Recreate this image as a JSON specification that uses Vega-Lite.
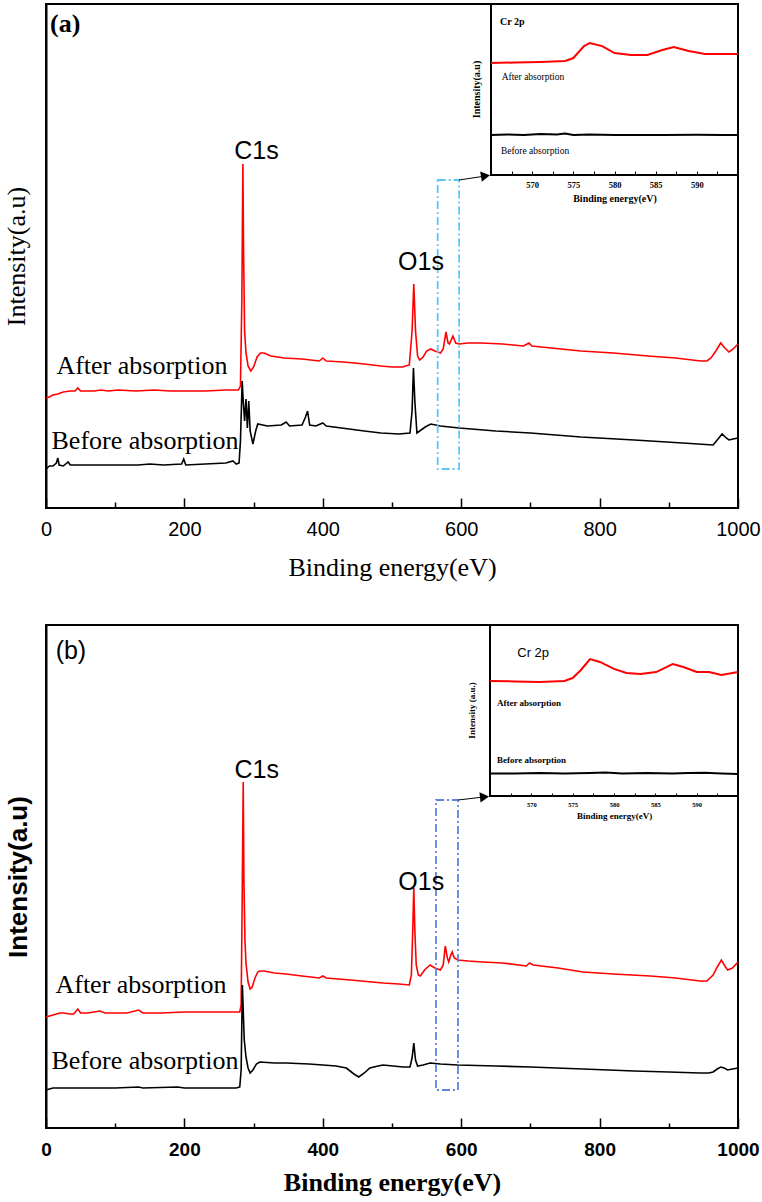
{
  "$schema": "https://vega.github.io/schema/vega-lite/v6.json",
  "background": "white",
  "padding": {"left": 2, "top": 2, "right": 5, "bottom": 0},
  "spacing": 42,
  "config": {
    "view": {"stroke": "#000000", "strokeWidth": 2},
    "axis": {"grid": false, "domain": false, "labelColor": "#000000", "titleColor": "#000000", "tickColor": "#000000", "domainColor": "#000000"}
  },
  "datasets": {
    "one": [{}],
    "aMain": [
      {"e":0,"v":110,"s":"After"},{"e":5,"v":111,"s":"After"},{"e":10,"v":113,"s":"After"},{"e":17,"v":114,"s":"After"},{"e":25,"v":116,"s":"After"},{"e":35,"v":117,"s":"After"},{"e":42,"v":117,"s":"After"},{"e":46,"v":120,"s":"After"},{"e":50,"v":117,"s":"After"},{"e":70,"v":117,"s":"After"},{"e":79,"v":118,"s":"After"},{"e":90,"v":117,"s":"After"},{"e":104,"v":118,"s":"After"},{"e":130,"v":117,"s":"After"},{"e":156,"v":118,"s":"After"},{"e":180,"v":117,"s":"After"},{"e":200,"v":117,"s":"After"},{"e":230,"v":117,"s":"After"},{"e":260,"v":118,"s":"After"},{"e":278,"v":118,"s":"After"},{"e":281,"v":122,"s":"After"},{"e":283,"v":207,"s":"After"},{"e":284.5,"v":344,"s":"After"},{"e":285.5,"v":257,"s":"After"},{"e":287,"v":177,"s":"After"},{"e":289,"v":155,"s":"After"},{"e":292,"v":142,"s":"After"},{"e":296,"v":137,"s":"After"},{"e":300,"v":141,"s":"After"},{"e":305,"v":151,"s":"After"},{"e":310,"v":155,"s":"After"},{"e":315,"v":155,"s":"After"},{"e":325,"v":152,"s":"After"},{"e":344,"v":150,"s":"After"},{"e":370,"v":149,"s":"After"},{"e":395,"v":147,"s":"After"},{"e":400,"v":150,"s":"After"},{"e":405,"v":147,"s":"After"},{"e":430,"v":146,"s":"After"},{"e":460,"v":144,"s":"After"},{"e":484,"v":142,"s":"After"},{"e":500,"v":141,"s":"After"},{"e":515,"v":141,"s":"After"},{"e":525,"v":143,"s":"After"},{"e":529,"v":177,"s":"After"},{"e":531.5,"v":224,"s":"After"},{"e":534,"v":177,"s":"After"},{"e":537,"v":152,"s":"After"},{"e":540,"v":148,"s":"After"},{"e":545,"v":151,"s":"After"},{"e":550,"v":157,"s":"After"},{"e":556,"v":159,"s":"After"},{"e":562,"v":157,"s":"After"},{"e":570,"v":155,"s":"After"},{"e":574,"v":159,"s":"After"},{"e":578,"v":176,"s":"After"},{"e":581,"v":165,"s":"After"},{"e":583,"v":164,"s":"After"},{"e":588,"v":172,"s":"After"},{"e":592,"v":165,"s":"After"},{"e":597,"v":164,"s":"After"},{"e":610,"v":165,"s":"After"},{"e":629,"v":165,"s":"After"},{"e":660,"v":164,"s":"After"},{"e":690,"v":162,"s":"After"},{"e":698,"v":165,"s":"After"},{"e":702,"v":162,"s":"After"},{"e":730,"v":160,"s":"After"},{"e":773,"v":157,"s":"After"},{"e":820,"v":155,"s":"After"},{"e":870,"v":152,"s":"After"},{"e":910,"v":150,"s":"After"},{"e":946,"v":147,"s":"After"},{"e":955,"v":147,"s":"After"},{"e":961,"v":150,"s":"After"},{"e":968,"v":157,"s":"After"},{"e":975,"v":165,"s":"After"},{"e":981,"v":160,"s":"After"},{"e":987,"v":156,"s":"After"},{"e":993,"v":159,"s":"After"},{"e":1000,"v":164,"s":"After"},
      {"e":0,"v":39,"s":"Before"},{"e":5,"v":42,"s":"Before"},{"e":10,"v":42,"s":"Before"},{"e":15,"v":45,"s":"Before"},{"e":17,"v":50,"s":"Before"},{"e":19,"v":43,"s":"Before"},{"e":25,"v":42,"s":"Before"},{"e":32,"v":46,"s":"Before"},{"e":35,"v":43,"s":"Before"},{"e":55,"v":43,"s":"Before"},{"e":80,"v":43,"s":"Before"},{"e":100,"v":43,"s":"Before"},{"e":133,"v":43,"s":"Before"},{"e":150,"v":44,"s":"Before"},{"e":170,"v":43,"s":"Before"},{"e":196,"v":44,"s":"Before"},{"e":199,"v":49,"s":"Before"},{"e":202,"v":43,"s":"Before"},{"e":230,"v":44,"s":"Before"},{"e":260,"v":45,"s":"Before"},{"e":270,"v":47,"s":"Before"},{"e":275,"v":44,"s":"Before"},{"e":279,"v":45,"s":"Before"},{"e":281,"v":67,"s":"Before"},{"e":283.5,"v":127,"s":"Before"},{"e":285,"v":107,"s":"Before"},{"e":287,"v":87,"s":"Before"},{"e":289,"v":109,"s":"Before"},{"e":291,"v":80,"s":"Before"},{"e":293,"v":107,"s":"Before"},{"e":295,"v":77,"s":"Before"},{"e":299,"v":64,"s":"Before"},{"e":303,"v":77,"s":"Before"},{"e":306,"v":84,"s":"Before"},{"e":320,"v":82,"s":"Before"},{"e":340,"v":83,"s":"Before"},{"e":347,"v":86,"s":"Before"},{"e":352,"v":82,"s":"Before"},{"e":370,"v":83,"s":"Before"},{"e":375,"v":91,"s":"Before"},{"e":378,"v":97,"s":"Before"},{"e":381,"v":83,"s":"Before"},{"e":390,"v":82,"s":"Before"},{"e":400,"v":85,"s":"Before"},{"e":405,"v":82,"s":"Before"},{"e":438,"v":79,"s":"Before"},{"e":460,"v":77,"s":"Before"},{"e":484,"v":75,"s":"Before"},{"e":510,"v":74,"s":"Before"},{"e":526,"v":75,"s":"Before"},{"e":529,"v":97,"s":"Before"},{"e":531,"v":140,"s":"Before"},{"e":533,"v":107,"s":"Before"},{"e":536,"v":75,"s":"Before"},{"e":540,"v":77,"s":"Before"},{"e":548,"v":81,"s":"Before"},{"e":556,"v":84,"s":"Before"},{"e":570,"v":82,"s":"Before"},{"e":597,"v":80,"s":"Before"},{"e":650,"v":77,"s":"Before"},{"e":700,"v":75,"s":"Before"},{"e":773,"v":71,"s":"Before"},{"e":850,"v":68,"s":"Before"},{"e":920,"v":65,"s":"Before"},{"e":964,"v":63,"s":"Before"},{"e":970,"v":68,"s":"Before"},{"e":977,"v":74,"s":"Before"},{"e":983,"v":70,"s":"Before"},{"e":987,"v":68,"s":"Before"},{"e":993,"v":69,"s":"Before"},{"e":1000,"v":70,"s":"Before"}
    ],
    "aInset": [
      {"e":565,"u":65.5,"s":"After"},{"e":568,"u":65.8,"s":"After"},{"e":571,"u":66.1,"s":"After"},{"e":574,"u":66.7,"s":"After"},{"e":575,"u":68.4,"s":"After"},{"e":576.3,"u":75.4,"s":"After"},{"e":577,"u":77.2,"s":"After"},{"e":578.5,"u":75.4,"s":"After"},{"e":580,"u":71.3,"s":"After"},{"e":582,"u":70.2,"s":"After"},{"e":584,"u":70.2,"s":"After"},{"e":585.8,"u":73.1,"s":"After"},{"e":587.2,"u":74.9,"s":"After"},{"e":589,"u":72.5,"s":"After"},{"e":591,"u":70.8,"s":"After"},{"e":593,"u":70.8,"s":"After"},{"e":595,"u":70.8,"s":"After"},
      {"e":565,"u":23.4,"s":"Before"},{"e":567,"u":23.7,"s":"Before"},{"e":569,"u":23.4,"s":"Before"},{"e":571,"u":24.0,"s":"Before"},{"e":573,"u":23.7,"s":"Before"},{"e":574,"u":24.3,"s":"Before"},{"e":575,"u":23.4,"s":"Before"},{"e":577,"u":23.7,"s":"Before"},{"e":580,"u":23.4,"s":"Before"},{"e":583,"u":23.4,"s":"Before"},{"e":586,"u":23.4,"s":"Before"},{"e":590,"u":23.5,"s":"Before"},{"e":593,"u":23.4,"s":"Before"},{"e":595,"u":23.4,"s":"Before"}
    ],
    "bMain": [
      {"e":0,"v":111,"s":"After"},{"e":10,"v":113,"s":"After"},{"e":20,"v":115,"s":"After"},{"e":25,"v":115,"s":"After"},{"e":35,"v":114,"s":"After"},{"e":40,"v":114,"s":"After"},{"e":46,"v":119,"s":"After"},{"e":50,"v":115,"s":"After"},{"e":60,"v":115,"s":"After"},{"e":78,"v":117,"s":"After"},{"e":85,"v":115,"s":"After"},{"e":100,"v":115,"s":"After"},{"e":117,"v":115,"s":"After"},{"e":134,"v":118,"s":"After"},{"e":140,"v":115,"s":"After"},{"e":167,"v":115,"s":"After"},{"e":200,"v":116,"s":"After"},{"e":240,"v":116,"s":"After"},{"e":270,"v":116,"s":"After"},{"e":280,"v":116,"s":"After"},{"e":282,"v":123,"s":"After"},{"e":283.5,"v":228,"s":"After"},{"e":285,"v":346,"s":"After"},{"e":286,"v":248,"s":"After"},{"e":287.5,"v":188,"s":"After"},{"e":289,"v":165,"s":"After"},{"e":292,"v":146,"s":"After"},{"e":295,"v":139,"s":"After"},{"e":298,"v":141,"s":"After"},{"e":302,"v":150,"s":"After"},{"e":306,"v":156,"s":"After"},{"e":309,"v":157,"s":"After"},{"e":315,"v":157,"s":"After"},{"e":330,"v":155,"s":"After"},{"e":347,"v":154,"s":"After"},{"e":370,"v":152,"s":"After"},{"e":395,"v":150,"s":"After"},{"e":400,"v":152,"s":"After"},{"e":405,"v":150,"s":"After"},{"e":440,"v":148,"s":"After"},{"e":487,"v":145,"s":"After"},{"e":510,"v":144,"s":"After"},{"e":525,"v":143,"s":"After"},{"e":528,"v":153,"s":"After"},{"e":530,"v":198,"s":"After"},{"e":531.5,"v":240,"s":"After"},{"e":533,"v":198,"s":"After"},{"e":535,"v":163,"s":"After"},{"e":538,"v":153,"s":"After"},{"e":541,"v":152,"s":"After"},{"e":547,"v":158,"s":"After"},{"e":555,"v":163,"s":"After"},{"e":562,"v":160,"s":"After"},{"e":570,"v":158,"s":"After"},{"e":574,"v":163,"s":"After"},{"e":577,"v":182,"s":"After"},{"e":580,"v":170,"s":"After"},{"e":582,"v":166,"s":"After"},{"e":585,"v":173,"s":"After"},{"e":587,"v":176,"s":"After"},{"e":590,"v":170,"s":"After"},{"e":595,"v":168,"s":"After"},{"e":610,"v":167,"s":"After"},{"e":631,"v":166,"s":"After"},{"e":660,"v":165,"s":"After"},{"e":694,"v":162,"s":"After"},{"e":699,"v":165,"s":"After"},{"e":704,"v":163,"s":"After"},{"e":740,"v":160,"s":"After"},{"e":776,"v":156,"s":"After"},{"e":820,"v":154,"s":"After"},{"e":873,"v":152,"s":"After"},{"e":910,"v":150,"s":"After"},{"e":945,"v":147,"s":"After"},{"e":955,"v":147,"s":"After"},{"e":964,"v":153,"s":"After"},{"e":970,"v":161,"s":"After"},{"e":976,"v":168,"s":"After"},{"e":981,"v":162,"s":"After"},{"e":985,"v":158,"s":"After"},{"e":992,"v":160,"s":"After"},{"e":1000,"v":166,"s":"After"},
      {"e":0,"v":38,"s":"Before"},{"e":10,"v":40,"s":"Before"},{"e":20,"v":40,"s":"Before"},{"e":50,"v":40,"s":"Before"},{"e":100,"v":40,"s":"Before"},{"e":134,"v":41,"s":"Before"},{"e":140,"v":40,"s":"Before"},{"e":190,"v":41,"s":"Before"},{"e":200,"v":40,"s":"Before"},{"e":250,"v":40,"s":"Before"},{"e":275,"v":40,"s":"Before"},{"e":280,"v":41,"s":"Before"},{"e":282,"v":58,"s":"Before"},{"e":283.8,"v":143,"s":"Before"},{"e":285,"v":118,"s":"Before"},{"e":286.5,"v":88,"s":"Before"},{"e":289,"v":71,"s":"Before"},{"e":292,"v":60,"s":"Before"},{"e":295,"v":55,"s":"Before"},{"e":299,"v":58,"s":"Before"},{"e":304,"v":64,"s":"Before"},{"e":309,"v":66,"s":"Before"},{"e":330,"v":65,"s":"Before"},{"e":347,"v":65,"s":"Before"},{"e":380,"v":64,"s":"Before"},{"e":400,"v":63,"s":"Before"},{"e":419,"v":62,"s":"Before"},{"e":434,"v":60,"s":"Before"},{"e":445,"v":54,"s":"Before"},{"e":452,"v":51,"s":"Before"},{"e":460,"v":55,"s":"Before"},{"e":468,"v":60,"s":"Before"},{"e":480,"v":62,"s":"Before"},{"e":487,"v":63,"s":"Before"},{"e":516,"v":61,"s":"Before"},{"e":526,"v":61,"s":"Before"},{"e":529,"v":70,"s":"Before"},{"e":531.5,"v":85,"s":"Before"},{"e":534,"v":68,"s":"Before"},{"e":537,"v":62,"s":"Before"},{"e":545,"v":63,"s":"Before"},{"e":555,"v":65,"s":"Before"},{"e":570,"v":64,"s":"Before"},{"e":595,"v":63,"s":"Before"},{"e":650,"v":62,"s":"Before"},{"e":700,"v":61,"s":"Before"},{"e":776,"v":59,"s":"Before"},{"e":850,"v":57,"s":"Before"},{"e":900,"v":56,"s":"Before"},{"e":945,"v":55,"s":"Before"},{"e":958,"v":55,"s":"Before"},{"e":964,"v":56,"s":"Before"},{"e":970,"v":59,"s":"Before"},{"e":975,"v":61,"s":"Before"},{"e":980,"v":60,"s":"Before"},{"e":985,"v":58,"s":"Before"},{"e":992,"v":59,"s":"Before"},{"e":1000,"v":60,"s":"Before"}
    ],
    "bInset": [
      {"e":565,"u":67.3,"s":"After"},{"e":568,"u":67.0,"s":"After"},{"e":571,"u":66.7,"s":"After"},{"e":574,"u":67.3,"s":"After"},{"e":575,"u":69.0,"s":"After"},{"e":576,"u":73.7,"s":"After"},{"e":577.1,"u":80.1,"s":"After"},{"e":578.3,"u":78.4,"s":"After"},{"e":580,"u":74.3,"s":"After"},{"e":581.5,"u":71.9,"s":"After"},{"e":583.2,"u":71.3,"s":"After"},{"e":585.1,"u":72.5,"s":"After"},{"e":587.1,"u":77.2,"s":"After"},{"e":588.4,"u":75.4,"s":"After"},{"e":590,"u":72.5,"s":"After"},{"e":591.5,"u":72.5,"s":"After"},{"e":593,"u":70.8,"s":"After"},{"e":595,"u":72.5,"s":"After"},
      {"e":565,"u":13.2,"s":"Before"},{"e":568,"u":13.2,"s":"Before"},{"e":571,"u":13.5,"s":"Before"},{"e":574,"u":13.2,"s":"Before"},{"e":577,"u":13.5,"s":"Before"},{"e":579,"u":13.7,"s":"Before"},{"e":581,"u":13.2,"s":"Before"},{"e":584,"u":13.5,"s":"Before"},{"e":587,"u":13.2,"s":"Before"},{"e":589,"u":13.5,"s":"Before"},{"e":591,"u":13.6,"s":"Before"},{"e":593,"u":13.2,"s":"Before"},{"e":595,"u":12.9,"s":"Before"}
    ]
  },
  "vconcat": [
    {
      "width": 692,
      "height": 504,
      "resolve": {"scale": {"x": "independent", "y": "independent"}},
      "layer": [
        {
          "data": {"name": "aMain"},
          "mark": {"type": "line", "strokeWidth": 1.6},
          "encoding": {
            "x": {"field": "e", "type": "quantitative", "scale": {"domain": [0, 1000], "nice": false, "zero": false},
              "axis": {"orient": "bottom", "title": "Binding energy(eV)", "values": [0, 200, 400, 600, 800, 1000], "format": "d", "ticks": false, "labelFont": "Liberation Sans", "labelFontSize": 20, "labelPadding": 11, "labelFlush": false, "titleFont": "Liberation Serif", "titleFontSize": 26, "titleFontWeight": "normal", "titlePadding": 15, "domain": false}},
            "y": {"field": "v", "type": "quantitative", "scale": {"domain": [0, 504], "nice": false, "zero": false},
              "axis": {"orient": "left", "title": "Intensity(a.u)", "labels": false, "ticks": false, "domain": true, "domainWidth": 2, "titleFont": "Liberation Serif", "titleFontSize": 26, "titleFontWeight": "normal", "titlePadding": 17}},
            "color": {"field": "s", "type": "nominal", "scale": {"domain": ["After", "Before"], "range": ["#ff0000", "#000000"]}, "legend": null}
          }
        },
        {
          "data": {"name": "one"},
          "mark": {"type": "rect", "filled": false, "stroke": "#5CC8F8", "strokeWidth": 1.8, "strokeDash": [8, 3, 2, 3]},
          "encoding": {
            "x": {"datum": 566, "type": "quantitative", "scale": {"domain": [0, 1000], "nice": false, "zero": false},
              "axis": {"orient": "top", "offset": -504, "values": [0, 200, 400, 600, 800, 1000], "labels": false, "title": null, "ticks": true, "tickSize": 10, "tickWidth": 1.5, "domain": false}},
            "x2": {"datum": 597},
            "y": {"datum": 39, "type": "quantitative", "scale": {"domain": [0, 504], "nice": false, "zero": false}, "axis": null},
            "y2": {"datum": 328}
          }
        },
        {
          "data": {"name": "one"},
          "mark": {"type": "rule", "stroke": "#000000", "strokeWidth": 1},
          "encoding": {
            "x": {"datum": 596.8, "type": "quantitative", "scale": {"domain": [0, 1000], "nice": false, "zero": false},
              "axis": {"orient": "top", "offset": -504, "values": [100, 300, 500, 700, 900], "labels": false, "title": null, "ticks": true, "tickSize": 6, "tickWidth": 1.5, "domain": false}},
            "x2": {"datum": 635},
            "y": {"datum": 328, "type": "quantitative", "scale": {"domain": [0, 504], "nice": false, "zero": false}, "axis": null},
            "y2": {"datum": 332}
          }
        },
        {
          "data": {"name": "one"},
          "mark": {"type": "point", "shape": "triangle-right", "filled": true, "color": "#000000", "size": 110, "angle": -9, "opacity": 1},
          "encoding": {
            "x": {"datum": 635.1, "type": "quantitative", "scale": {"domain": [0, 1000], "nice": false, "zero": false}, "axis": null},
            "y": {"datum": 332.1, "type": "quantitative", "scale": {"domain": [0, 504], "nice": false, "zero": false}, "axis": null}
          }
        },
        {
          "data": {"values": [{"e": 304.2, "v": 357, "t": "C1s"}, {"e": 541.9, "v": 246, "t": "O1s"}]},
          "mark": {"type": "text", "font": "Liberation Sans", "fontSize": 25, "align": "center", "baseline": "middle", "color": "#000000"},
          "encoding": {
            "x": {"field": "e", "type": "quantitative", "scale": {"domain": [0, 1000], "nice": false, "zero": false}, "axis": null},
            "y": {"field": "v", "type": "quantitative", "scale": {"domain": [0, 504], "nice": false, "zero": false}, "axis": null},
            "text": {"field": "t"}
          }
        },
        {
          "data": {"values": [{"e": 138.7, "v": 141.8, "t": "After absorption"}, {"e": 143.1, "v": 66.8, "t": "Before absorption"}]},
          "mark": {"type": "text", "font": "Liberation Serif", "fontSize": 26, "align": "center", "baseline": "middle", "color": "#000000"},
          "encoding": {
            "x": {"field": "e", "type": "quantitative", "scale": {"domain": [0, 1000], "nice": false, "zero": false}, "axis": null},
            "y": {"field": "v", "type": "quantitative", "scale": {"domain": [0, 504], "nice": false, "zero": false}, "axis": null},
            "text": {"field": "t"}
          }
        },
        {
          "data": {"values": [{"e": 5.8, "v": 484, "t": "(a)"}]},
          "mark": {"type": "text", "font": "Liberation Serif", "fontSize": 26, "fontWeight": "bold", "align": "left", "baseline": "middle", "color": "#000000"},
          "encoding": {
            "x": {"field": "e", "type": "quantitative", "scale": {"domain": [0, 1000], "nice": false, "zero": false}, "axis": null},
            "y": {"field": "v", "type": "quantitative", "scale": {"domain": [0, 504], "nice": false, "zero": false}, "axis": null},
            "text": {"field": "t"}
          }
        },
        {
          "data": {"name": "one"},
          "mark": {"type": "rect", "fill": "#ffffff", "stroke": "#000000", "strokeWidth": 2},
          "encoding": {
            "x": {"datum": 565, "type": "quantitative", "scale": {"domain": [510.95, 595], "nice": false, "zero": false},
              "axis": {"orient": "top", "offset": -171, "values": [567.5, 570, 572.5, 575, 577.5, 580, 582.5, 585, 587.5, 590, 592.5], "labels": false, "title": null, "ticks": true, "tickSize": 4, "tickWidth": 1, "domain": false, "zindex": 1}},
            "x2": {"datum": 595},
            "y": {"datum": 0, "type": "quantitative", "scale": {"domain": [-194.74, 100], "nice": false, "zero": false}, "axis": null},
            "y2": {"datum": 100}
          }
        },
        {
          "data": {"name": "aInset"},
          "mark": {"type": "line", "strokeWidth": 2},
          "encoding": {
            "x": {"field": "e", "type": "quantitative", "scale": {"domain": [510.95, 595], "nice": false, "zero": false},
              "axis": {"orient": "bottom", "offset": -333, "title": "Binding energy(eV)", "titleX": 568.5, "titleAlign": "center", "values": [570, 575, 580, 585, 590], "format": "d", "ticks": false, "labelFont": "Liberation Serif", "labelFontWeight": "bold", "labelFontSize": 8.5, "labelPadding": 5, "labelFlush": false, "titleFont": "Liberation Serif", "titleFontSize": 10, "titleFontWeight": "bold", "titlePadding": 5, "domain": false, "zindex": 1}},
            "y": {"field": "u", "type": "quantitative", "scale": {"domain": [-194.74, 100], "nice": false, "zero": false}, "axis": null},
            "color": {"field": "s", "type": "nominal", "scale": {"domain": ["After", "Before"], "range": ["#ff0000", "#000000"]}, "legend": null}
          }
        },
        {
          "data": {"values": [{"e": 566.1, "u": 89.5, "t": "Cr 2p"}]},
          "mark": {"type": "text", "font": "Liberation Serif", "fontSize": 10, "fontWeight": "bold", "align": "left", "baseline": "middle", "color": "#000000"},
          "encoding": {
            "x": {"field": "e", "type": "quantitative", "scale": {"domain": [510.95, 595], "nice": false, "zero": false}, "axis": null},
            "y": {"field": "u", "type": "quantitative", "scale": {"domain": [-194.74, 100], "nice": false, "zero": false}, "axis": null},
            "text": {"field": "t"}
          }
        },
        {
          "data": {"values": [{"e": 566.3, "u": 57.3, "t": "After absorption"}, {"e": 566.2, "u": 14.0, "t": "Before absorption"}]},
          "mark": {"type": "text", "font": "Liberation Serif", "fontSize": 9.5, "align": "left", "baseline": "middle", "color": "#000000"},
          "encoding": {
            "x": {"field": "e", "type": "quantitative", "scale": {"domain": [510.95, 595], "nice": false, "zero": false}, "axis": null},
            "y": {"field": "u", "type": "quantitative", "scale": {"domain": [-194.74, 100], "nice": false, "zero": false}, "axis": null},
            "text": {"field": "t"}
          }
        },
        {
          "data": {"values": [{"e": 563.3, "u": 50, "t": "Intensity(a.u)"}]},
          "mark": {"type": "text", "font": "Liberation Serif", "fontSize": 10, "fontWeight": "bold", "align": "center", "baseline": "middle", "angle": 270, "color": "#000000"},
          "encoding": {
            "x": {"field": "e", "type": "quantitative", "scale": {"domain": [510.95, 595], "nice": false, "zero": false}, "axis": null},
            "y": {"field": "u", "type": "quantitative", "scale": {"domain": [-194.74, 100], "nice": false, "zero": false}, "axis": null},
            "text": {"field": "t"}
          }
        }
      ]
    },
    {
      "width": 692,
      "height": 503,
      "resolve": {"scale": {"x": "independent", "y": "independent"}},
      "layer": [
        {
          "data": {"name": "bMain"},
          "mark": {"type": "line", "strokeWidth": 1.6},
          "encoding": {
            "x": {"field": "e", "type": "quantitative", "scale": {"domain": [0, 1000], "nice": false, "zero": false},
              "axis": {"orient": "bottom", "title": "Binding energy(eV)", "values": [0, 200, 400, 600, 800, 1000], "format": "d", "ticks": false, "labelFont": "Liberation Sans", "labelFontWeight": "bold", "labelFontSize": 19, "labelPadding": 12, "labelFlush": false, "titleFont": "Liberation Serif", "titleFontSize": 26, "titleFontWeight": "bold", "titlePadding": 10, "domain": false}},
            "y": {"field": "v", "type": "quantitative", "scale": {"domain": [0, 503], "nice": false, "zero": false},
              "axis": {"orient": "left", "title": "Intensity(a.u)", "labels": false, "ticks": false, "domain": true, "domainWidth": 2, "titleFont": "Liberation Sans", "titleFontSize": 26, "titleFontWeight": "bold", "titlePadding": 15}},
            "color": {"field": "s", "type": "nominal", "scale": {"domain": ["After", "Before"], "range": ["#ff0000", "#000000"]}, "legend": null}
          }
        },
        {
          "data": {"name": "one"},
          "mark": {"type": "rect", "filled": false, "stroke": "#5F86DB", "strokeWidth": 1.8, "strokeDash": [8, 3, 2, 3]},
          "encoding": {
            "x": {"datum": 563.6, "type": "quantitative", "scale": {"domain": [0, 1000], "nice": false, "zero": false},
              "axis": {"orient": "top", "offset": -503, "values": [0, 200, 400, 600, 800, 1000], "labels": false, "title": null, "ticks": true, "tickSize": 10, "tickWidth": 1.5, "domain": false}},
            "x2": {"datum": 595.4},
            "y": {"datum": 38, "type": "quantitative", "scale": {"domain": [0, 503], "nice": false, "zero": false}, "axis": null},
            "y2": {"datum": 328}
          }
        },
        {
          "data": {"name": "one"},
          "mark": {"type": "rule", "stroke": "#000000", "strokeWidth": 1},
          "encoding": {
            "x": {"datum": 595.4, "type": "quantitative", "scale": {"domain": [0, 1000], "nice": false, "zero": false},
              "axis": {"orient": "top", "offset": -503, "values": [100, 300, 500, 700, 900], "labels": false, "title": null, "ticks": true, "tickSize": 5, "tickWidth": 1.5, "domain": false}},
            "x2": {"datum": 633.7},
            "y": {"datum": 328, "type": "quantitative", "scale": {"domain": [0, 503], "nice": false, "zero": false}, "axis": null},
            "y2": {"datum": 331.1}
          }
        },
        {
          "data": {"name": "one"},
          "mark": {"type": "point", "shape": "triangle-right", "filled": true, "color": "#000000", "size": 110, "angle": -6, "opacity": 1},
          "encoding": {
            "x": {"datum": 633.7, "type": "quantitative", "scale": {"domain": [0, 1000], "nice": false, "zero": false}, "axis": null},
            "y": {"datum": 331.1, "type": "quantitative", "scale": {"domain": [0, 503], "nice": false, "zero": false}, "axis": null}
          }
        },
        {
          "data": {"values": [{"e": 304.5, "v": 358.5, "t": "C1s"}, {"e": 542.3, "v": 246.5, "t": "O1s"}, {"e": 36, "v": 477.5, "t": "(b)"}]},
          "mark": {"type": "text", "font": "Liberation Sans", "fontSize": 25, "align": "center", "baseline": "middle", "color": "#000000"},
          "encoding": {
            "x": {"field": "e", "type": "quantitative", "scale": {"domain": [0, 1000], "nice": false, "zero": false}, "axis": null},
            "y": {"field": "v", "type": "quantitative", "scale": {"domain": [0, 503], "nice": false, "zero": false}, "axis": null},
            "text": {"field": "t"}
          }
        },
        {
          "data": {"values": [{"e": 137.3, "v": 142.8, "t": "After absorption"}, {"e": 143, "v": 66.8, "t": "Before absorption"}]},
          "mark": {"type": "text", "font": "Liberation Serif", "fontSize": 26, "align": "center", "baseline": "middle", "color": "#000000"},
          "encoding": {
            "x": {"field": "e", "type": "quantitative", "scale": {"domain": [0, 1000], "nice": false, "zero": false}, "axis": null},
            "y": {"field": "v", "type": "quantitative", "scale": {"domain": [0, 503], "nice": false, "zero": false}, "axis": null},
            "text": {"field": "t"}
          }
        },
        {
          "data": {"name": "one"},
          "mark": {"type": "rect", "fill": "#ffffff", "stroke": "#000000", "strokeWidth": 2},
          "encoding": {
            "x": {"datum": 565, "type": "quantitative", "scale": {"domain": [511.29, 595], "nice": false, "zero": false},
              "axis": {"orient": "top", "offset": -171, "values": [567.5, 570, 572.5, 575, 577.5, 580, 582.5, 585, 587.5, 590, 592.5], "labels": false, "title": null, "ticks": true, "tickSize": 3, "tickWidth": 1, "domain": false, "zindex": 1}},
            "x2": {"datum": 595},
            "y": {"datum": 0, "type": "quantitative", "scale": {"domain": [-194.15, 100], "nice": false, "zero": false}, "axis": null},
            "y2": {"datum": 100}
          }
        },
        {
          "data": {"name": "bInset"},
          "mark": {"type": "line", "strokeWidth": 2},
          "encoding": {
            "x": {"field": "e", "type": "quantitative", "scale": {"domain": [511.29, 595], "nice": false, "zero": false},
              "axis": {"orient": "bottom", "offset": -332, "title": "Binding energy(eV)", "titleX": 568, "titleAlign": "center", "values": [570, 575, 580, 585, 590], "format": "d", "ticks": false, "labelFont": "Liberation Serif", "labelFontWeight": "bold", "labelFontSize": 6.5, "labelPadding": 5.6, "labelFlush": false, "titleFont": "Liberation Serif", "titleFontSize": 9, "titleFontWeight": "bold", "titlePadding": 3, "domain": false, "zindex": 1}},
            "y": {"field": "u", "type": "quantitative", "scale": {"domain": [-194.15, 100], "nice": false, "zero": false}, "axis": null},
            "color": {"field": "s", "type": "nominal", "scale": {"domain": ["After", "Before"], "range": ["#ff0000", "#000000"]}, "legend": null}
          }
        },
        {
          "data": {"values": [{"e": 568.3, "u": 83.6, "t": "Cr 2p"}]},
          "mark": {"type": "text", "font": "Liberation Sans", "fontSize": 13, "align": "left", "baseline": "middle", "color": "#000000"},
          "encoding": {
            "x": {"field": "e", "type": "quantitative", "scale": {"domain": [511.29, 595], "nice": false, "zero": false}, "axis": null},
            "y": {"field": "u", "type": "quantitative", "scale": {"domain": [-194.15, 100], "nice": false, "zero": false}, "axis": null},
            "text": {"field": "t"}
          }
        },
        {
          "data": {"values": [{"e": 565.85, "u": 54.4, "t": "After absorption"}, {"e": 565.85, "u": 21.1, "t": "Before absorption"}]},
          "mark": {"type": "text", "font": "Liberation Serif", "fontSize": 9, "fontWeight": "bold", "align": "left", "baseline": "middle", "color": "#000000"},
          "encoding": {
            "x": {"field": "e", "type": "quantitative", "scale": {"domain": [511.29, 595], "nice": false, "zero": false}, "axis": null},
            "y": {"field": "u", "type": "quantitative", "scale": {"domain": [-194.15, 100], "nice": false, "zero": false}, "axis": null},
            "text": {"field": "t"}
          }
        },
        {
          "data": {"values": [{"e": 562.8, "u": 50, "t": "Intensity (a.u.)"}]},
          "mark": {"type": "text", "font": "Liberation Serif", "fontSize": 9, "fontWeight": "bold", "align": "center", "baseline": "middle", "angle": 270, "color": "#000000"},
          "encoding": {
            "x": {"field": "e", "type": "quantitative", "scale": {"domain": [511.29, 595], "nice": false, "zero": false}, "axis": null},
            "y": {"field": "u", "type": "quantitative", "scale": {"domain": [-194.15, 100], "nice": false, "zero": false}, "axis": null},
            "text": {"field": "t"}
          }
        }
      ]
    }
  ]
}
